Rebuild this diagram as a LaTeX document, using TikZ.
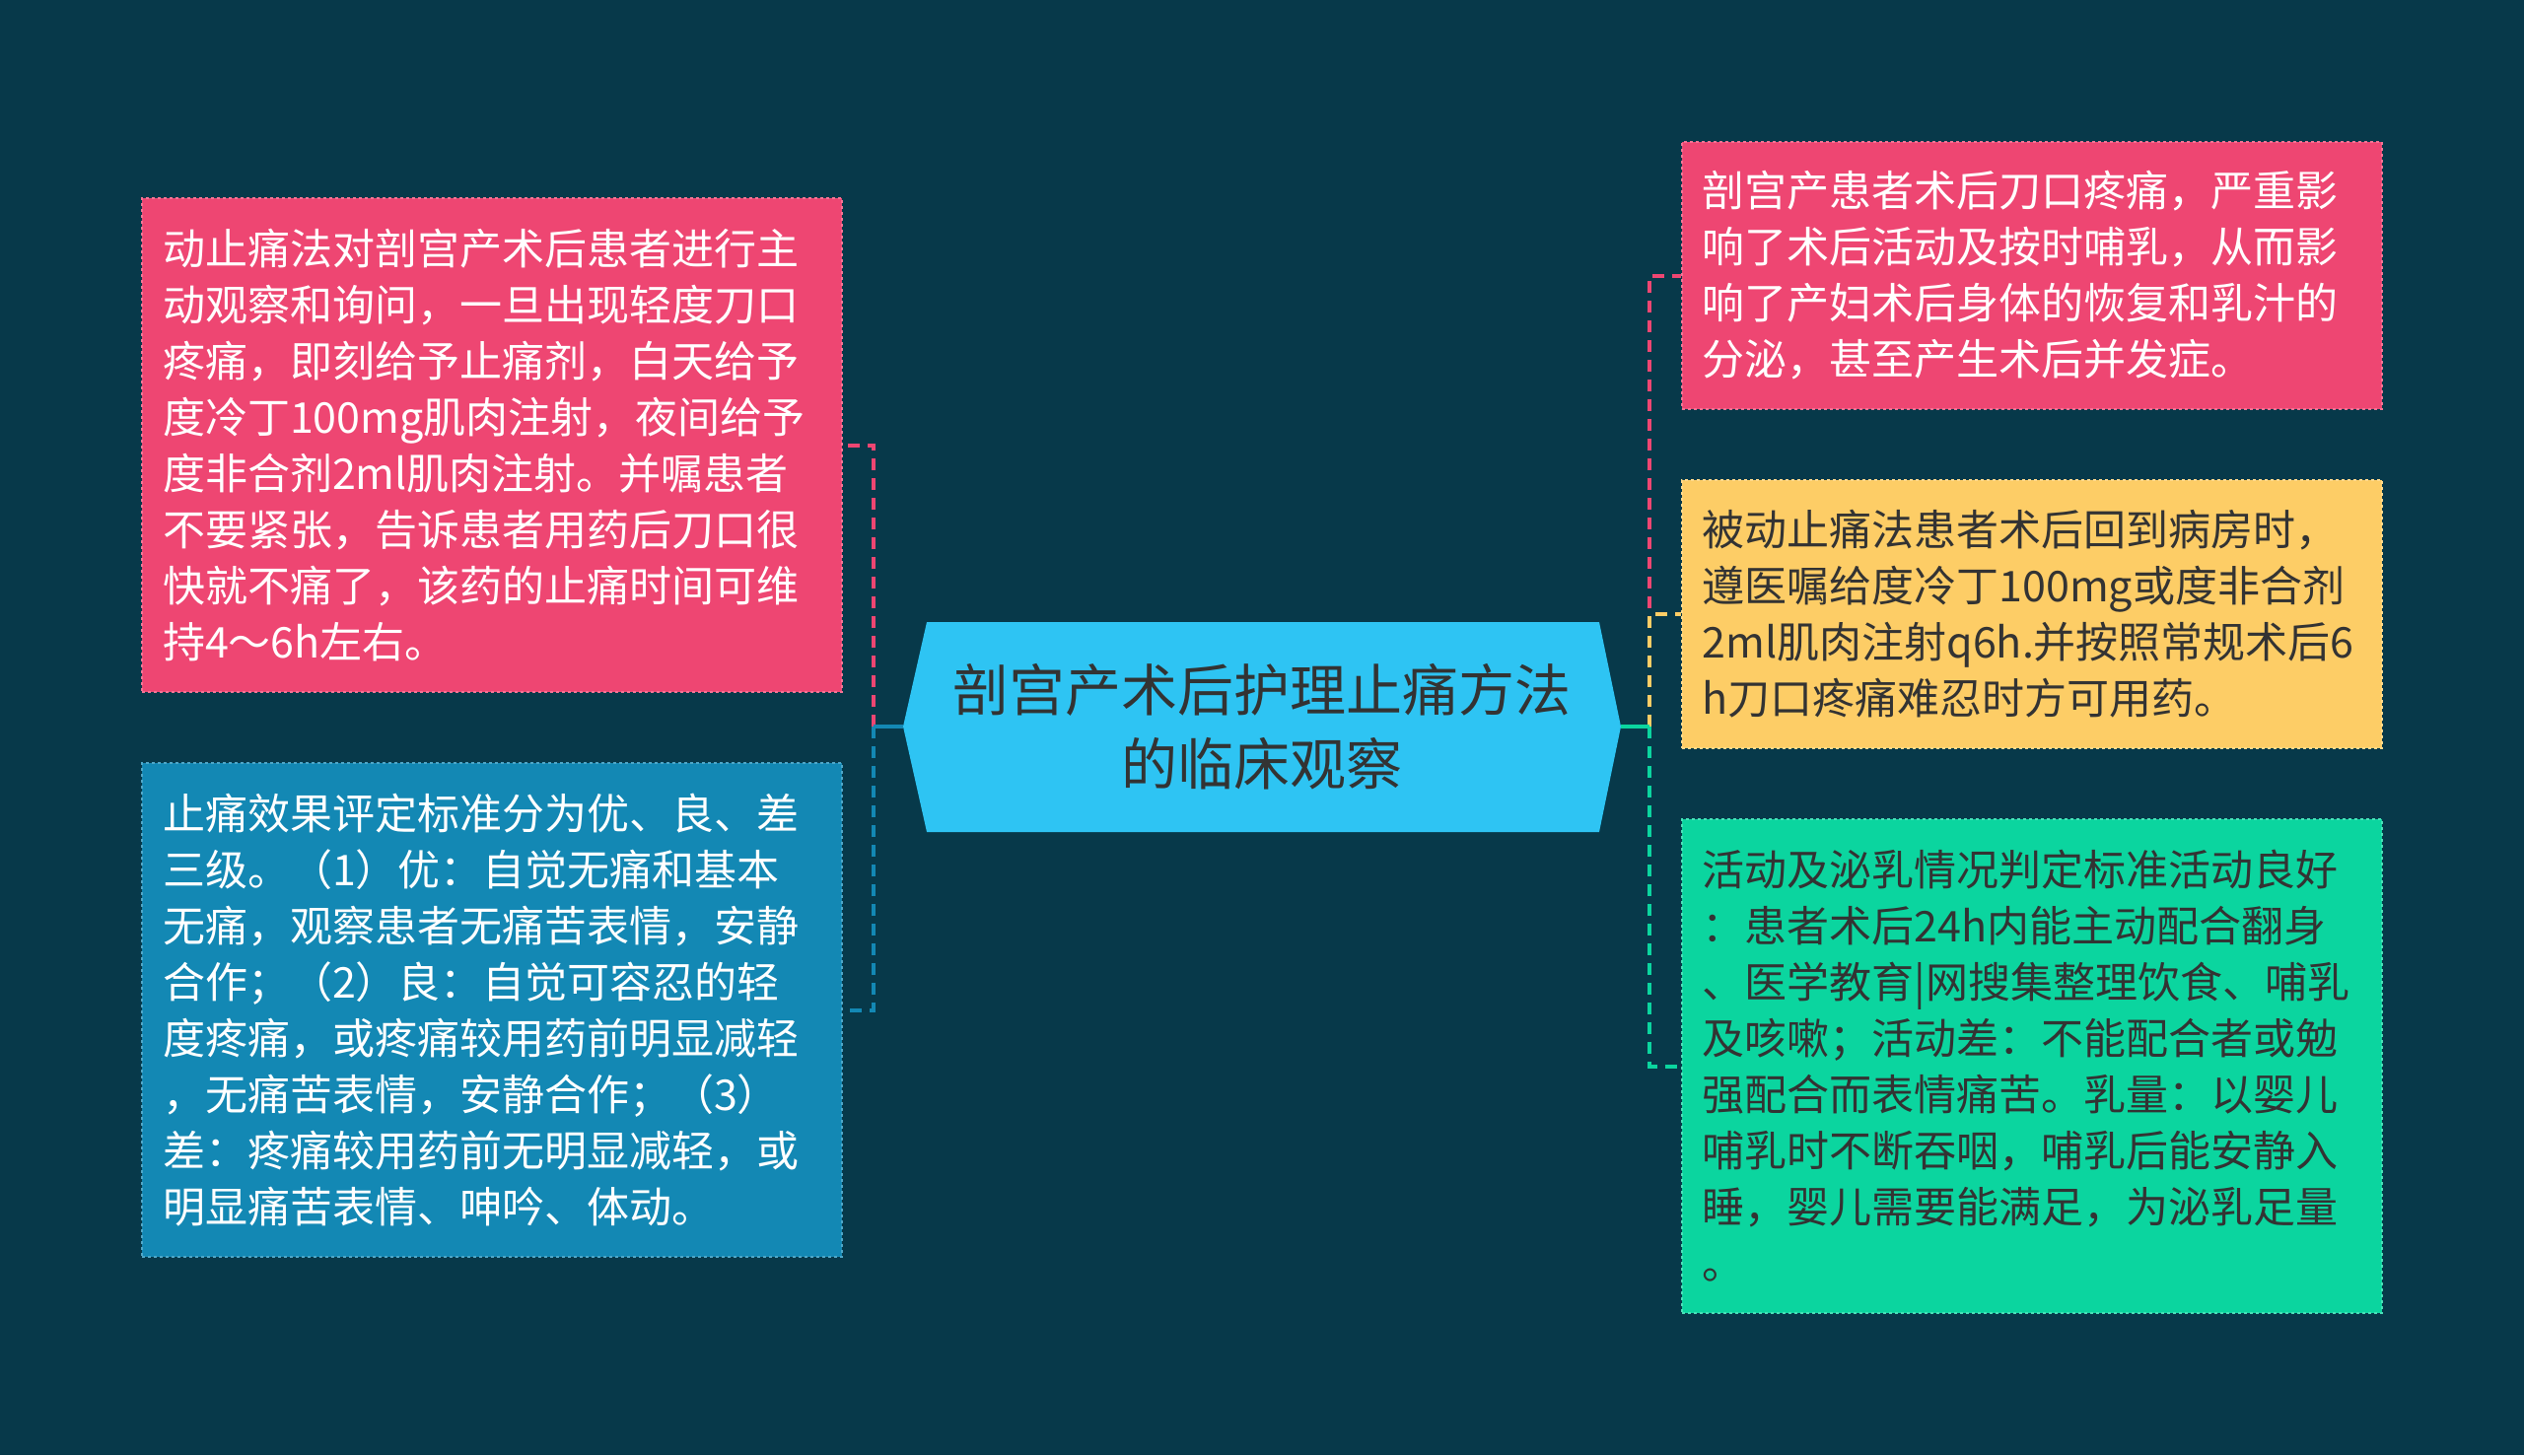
\documentclass[tikz,border=0pt]{standalone}
\usepackage{fontspec}
\setmainfont{Noto Sans CJK SC}
\usetikzlibrary{positioning}

\definecolor{bgc}{HTML}{07394A}
\definecolor{pinkc}{HTML}{EE4672}
\definecolor{bluec}{HTML}{1388B4}
\definecolor{yellowc}{HTML}{FDCD66}
\definecolor{greenc}{HTML}{0BD59F}
\definecolor{corec}{HTML}{2EC4F3}
\definecolor{inkc}{HTML}{333333}

\tikzset{
  card/.style={rectangle, dashed, line width=2pt, minimum width=710pt,
    text width=668pt, inner xsep=21pt, inner ysep=0pt, align=left,
    font=\fontsize{43}{57}\selectfont},
  coretext/.style={align=center, text=inkc, font=\fontsize{57}{75}\selectfont},
  link/.style={line width=4pt, dash pattern=on 12pt off 8pt},
  stub/.style={line width=4pt},
}

\begin{document}
\begin{tikzpicture}[x=1pt,y=-1pt]
  % background
  \fill[bgc] (0,0) rectangle (2560,1476);
  \useasboundingbox (0,0) rectangle (2560,1476);

  % centre topic
  \coordinate (corel) at (916,737);
  \coordinate (corer) at (1644,737);
  \fill[corec] (940,631) -- (1622,631) -- (corer) -- (1622,844)
    -- (940,844) -- (corel) -- cycle;
  \node[coretext] (core) at (1280,737) {剖宫产术后护理止痛方法\\的临床观察};

  % left side
  \node[card, fill=pinkc, draw=pinkc!75!white, text=white, minimum height=501pt]
    (l1) at (499,451.5) {动止痛法对剖宫产术后患者进行主\\动观察和询问，一旦出现轻度刀口\\疼痛，即刻给予止痛剂，白天给予\\度冷丁100mg肌肉注射，夜间给予\\度非合剂2ml肌肉注射。并嘱患者\\不要紧张，告诉患者用药后刀口很\\快就不痛了，该药的止痛时间可维\\持4～6h左右。};
  \node[card, fill=bluec, draw=bluec!75!white, text=white, minimum height=501pt]
    (l2) at (499,1024.5) {止痛效果评定标准分为优、良、差\\三级。（1）优：自觉无痛和基本\\无痛，观察患者无痛苦表情，安静\\合作；（2）良：自觉可容忍的轻\\度疼痛，或疼痛较用药前明显减轻\\，无痛苦表情，安静合作；（3）\\差：疼痛较用药前无明显减轻，或\\明显痛苦表情、呻吟、体动。};

  % right side
  \node[card, fill=pinkc, draw=pinkc!75!white, text=white, minimum height=271pt]
    (r1) at (2060.5,279.5) {剖宫产患者术后刀口疼痛，严重影\\响了术后活动及按时哺乳，从而影\\响了产妇术后身体的恢复和乳汁的\\分泌，甚至产生术后并发症。};
  \node[card, fill=yellowc, draw=yellowc!75!white, text=inkc, minimum height=272pt]
    (r2) at (2060.5,623) {被动止痛法患者术后回到病房时，\\遵医嘱给度冷丁100mg或度非合剂\\2ml肌肉注射q6h.并按照常规术后6\\h刀口疼痛难忍时方可用药。};
  \node[card, fill=greenc, draw=greenc!75!white, text=inkc, minimum height=501pt]
    (r3) at (2060.5,1081.5) {活动及泌乳情况判定标准活动良好\\：患者术后24h内能主动配合翻身\\、医学教育|网搜集整理饮食、哺乳\\及咳嗽；活动差：不能配合者或勉\\强配合而表情痛苦。乳量：以婴儿\\哺乳时不断吞咽，哺乳后能安静入\\睡，婴儿需要能满足，为泌乳足量\\。};

  % connectors
  \coordinate (ljoint) at (886,737);
  \coordinate (rjoint) at (1673,737);
  \draw[link, pinkc] (ljoint) |- (l1.east);
  \draw[link, bluec] (ljoint) |- (l2.east);
  \draw[stub, bluec] (corel) -- (ljoint);
  \draw[link, pinkc] (rjoint) |- (r1.west);
  \draw[link, yellowc] (rjoint) |- (r2.west);
  \draw[link, greenc] (rjoint) |- (r3.west);
  \draw[stub, greenc] (corer) -- (rjoint);
\end{tikzpicture}
\end{document}
